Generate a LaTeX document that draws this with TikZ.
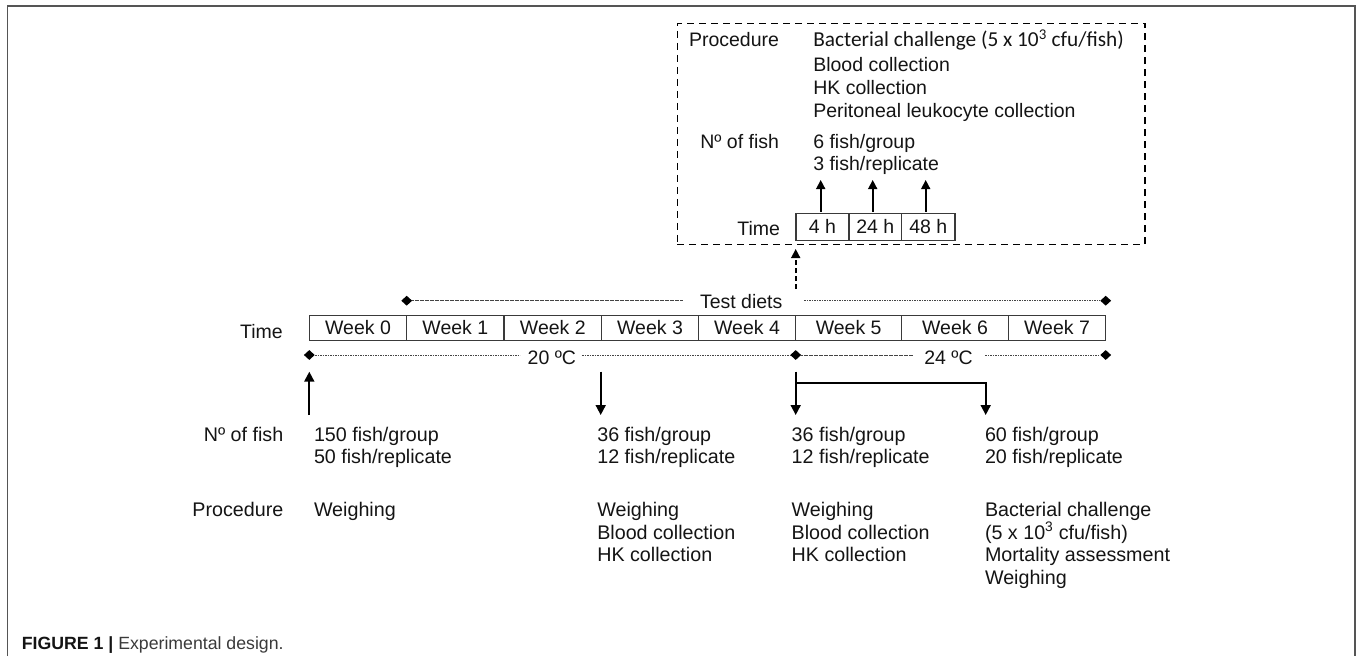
\documentclass[tikz,border=0pt]{standalone}
\usepackage{fontspec}
\setmainfont{Liberation Sans}
\newfontfamily\calfont{Carlito}
\usetikzlibrary{shapes.geometric,arrows.meta}
\definecolor{txtc}{HTML}{141414}
\definecolor{linec}{HTML}{3A3A3A}
\definecolor{framec}{HTML}{555555}
\definecolor{capc}{HTML}{3A3A3A}
\definecolor{dotc}{HTML}{444444}
\tikzset{
  sm/.style={inner sep=0pt, outer sep=0pt, text=txtc, font=\fontsize{19.7}{22.5}\selectfont, anchor=base west},
  smr/.style={sm, anchor=base east},
  md/.style={inner sep=0pt, outer sep=0pt, text=txtc, font=\fontsize{19.5}{23.5}\selectfont, anchor=base west},
  mdr/.style={md, anchor=base east},
  cell/.style={draw=linec, line width=1.1pt, inner sep=0pt, outer sep=0pt, anchor=west, text=txtc,
     font=\fontsize{19.5}{23.5}\selectfont},
  dia/.style={diamond, fill=black, inner sep=0pt, minimum width=11pt, minimum height=10pt},
  dots/.style={draw=dotc, line width=0.8pt, dash pattern=on 1.6pt off 0.9pt},
  arr/.style={draw=black, line width=1.8pt, -{Triangle[width=10pt,length=10pt]}},
  arrs/.style={draw=black, line width=1.6pt, -{Triangle[width=9pt,length=9pt]}},
}
\begin{document}
\begin{tikzpicture}[x=1pt,y=-1pt]
\useasboundingbox (0,0) rectangle (1357,656);
% frame
\draw[framec, line width=1.4pt] (7.3,656) -- (7.3,6) -- (1355,6) -- (1355,656);

% ---- inset box ----
\node[draw=black, line width=1.6pt, dash pattern=on 7pt off 5pt, inner sep=0pt, outer sep=0pt,
      minimum width=467.7pt, minimum height=221pt, anchor=north west] (inset) at (677.3,23.3) {};
\node[mdr] (iproc) at (779,46.7) {Procedure};
\node[inner sep=0pt, outer sep=0pt, text=txtc, anchor=base west, font=\calfont\fontsize{21.3}{24}\selectfont] (ib1) at (813.3,46.7) {Bacterial challenge (5 x 10\textsuperscript{3} cfu/fish)};
\node[md] (ib2) at (813.3,71) {Blood collection};
\node[md] (ib3) at (813.3,94.3) {HK collection};
\node[md] (ib4) at (813.3,117.3) {Peritoneal leukocyte collection};
\node[mdr] (ino) at (779,148.3) {Nº of fish};
\node[md] (in1) at (813.3,148.3) {6 fish/group};
\node[md] (in2) at (813.3,170) {3 fish/replicate};
\node[mdr] (itime) at (780,235) {Time};
\node[cell, minimum width=53pt, minimum height=26.7pt] (h4) at (796,226.7) {4 h};
\node[cell, minimum width=52.7pt, minimum height=26.7pt] (h24) at (h4.east) {24 h};
\node[cell, minimum width=53.3pt, minimum height=26.7pt] (h48) at (h24.east) {48 h};
\coordinate (a4s) at (820.7,211.7); \coordinate (a4t) at (820.7,180);
\coordinate (a24s) at (872.7,211.7); \coordinate (a24t) at (872.7,180);
\coordinate (a48s) at (925.7,211.7); \coordinate (a48t) at (925.7,180);
\draw[arrs] (a4s) -- (a4t);
\draw[arrs] (a24s) -- (a24t);
\draw[arrs] (a48s) -- (a48t);

% dashed arrow to inset
\coordinate (dsa) at (795.7,289);
\coordinate (dta) at (795.7,249);
\draw[draw=black, line width=1.6pt, dash pattern=on 5pt off 3pt, -{Triangle[width=9pt,length=9pt]}] (dsa) -- (dta);

% ---- test diets ----
\node[dia] (tdA) at (406.7,300.7) {};
\node[dia] (tdB) at (1105.7,300.7) {};
\node[md] (td) at (700,308.3) {Test diets};
\draw[dots] (tdA) -- ([xshift=-17pt]td.west |- tdA);
\draw[dots] ([xshift=22pt]td.east |- tdB) -- (tdB);

% ---- timeline ----
\node[mdr] (ttime) at (282.7,338.7) {Time};
\node[cell, minimum width=97.4pt, minimum height=25.3pt] (w0) at (309.3,327.7) {Week 0};
\node[cell, minimum width=97.3pt, minimum height=25.3pt] (w1) at (w0.east) {Week 1};
\node[cell, minimum width=97.7pt, minimum height=25.3pt] (w2) at (w1.east) {Week 2};
\node[cell, minimum width=96.6pt, minimum height=25.3pt] (w3) at (w2.east) {Week 3};
\node[cell, minimum width=97.4pt, minimum height=25.3pt] (w4) at (w3.east) {Week 4};
\node[cell, minimum width=106pt, minimum height=25.3pt] (w5) at (w4.east) {Week 5};
\node[cell, minimum width=106.6pt, minimum height=25.3pt] (w6) at (w5.east) {Week 6};
\node[cell, minimum width=97.4pt, minimum height=25.3pt] (w7) at (w6.east) {Week 7};

% ---- temperature ----
\node[dia] (tA) at (309.3,355) {};
\node[dia] (tB) at (795.7,355) {};
\node[dia] (tC) at (1105.7,355) {};
\node[md] (t20) at (527.7,364) {20 ºC};
\node[md] (t24) at (924.3,364) {24 ºC};
\draw[dots] (tA) -- ([xshift=-7.7pt]t20.west |- tA);
\draw[dots] ([xshift=6.3pt]t20.east |- tA) -- (tB);
\draw[dots] (tB) -- ([xshift=-11.3pt]t24.west |- tB);
\draw[dots] ([xshift=12.7pt]t24.east |- tB) -- (tC);

% ---- sampling arrows ----
\coordinate (u0s) at (309.3,415); \coordinate (u0t) at (309.3,371.7);
\draw[arr] (u0s) -- (u0t);
\coordinate (d2s) at (600.7,371.7); \coordinate (d2t) at (600.7,415);
\draw[arr] (d2s) -- (d2t);
\coordinate (d5s) at (795.7,371.7); \coordinate (d5t) at (795.7,415);
\draw[arr] (d5s) -- (d5t);
\coordinate (b5) at (795.7,382.7); \coordinate (b6t) at (985.7,415);
\draw[arr] (b5) -| (b6t);

% ---- bottom labels ----
\node[smr] (bno) at (283.3,441.3) {Nº of fish};
\node[smr] (bproc) at (283.3,516.7) {Procedure};
\node[sm] (c1a) at (314,441.3) {150 fish/group};
\node[sm] (c1b) at (314,463.6) {50 fish/replicate};
\node[sm] (c1c) at (314,516.7) {Weighing};
\node[sm] (c2a) at (597.3,441.3) {36 fish/group};
\node[sm] (c2b) at (597.3,463.6) {12 fish/replicate};
\node[sm] (c2c) at (597.3,516.7) {Weighing};
\node[sm] (c2d) at (597.3,539.2) {Blood collection};
\node[sm] (c2e) at (597.3,561.7) {HK collection};
\node[sm] (c3a) at (791.7,441.3) {36 fish/group};
\node[sm] (c3b) at (791.7,463.6) {12 fish/replicate};
\node[sm] (c3c) at (791.7,516.7) {Weighing};
\node[sm] (c3d) at (791.7,539.2) {Blood collection};
\node[sm] (c3e) at (791.7,561.7) {HK collection};
\node[sm] (c4a) at (985,441.3) {60 fish/group};
\node[sm] (c4b) at (985,463.6) {20 fish/replicate};
\node[sm] (c4c) at (985,516.7) {Bacterial challenge};
\node[sm] (c4d) at (985,539.2) {(5 x 10\textsuperscript{3} cfu/fish)};
\node[sm] (c4e) at (985,561.7) {Mortality assessment};
\node[sm] (c4f) at (985,584.2) {Weighing};

% ---- caption ----
\node[inner sep=0pt, anchor=base west, font=\fontsize{17.7}{21}\selectfont] (cap) at (21.7,649)
  {\textcolor{txtc}{\bfseries FIGURE 1 |} \textcolor{capc}{Experimental design.}};
\end{tikzpicture}
\end{document}
